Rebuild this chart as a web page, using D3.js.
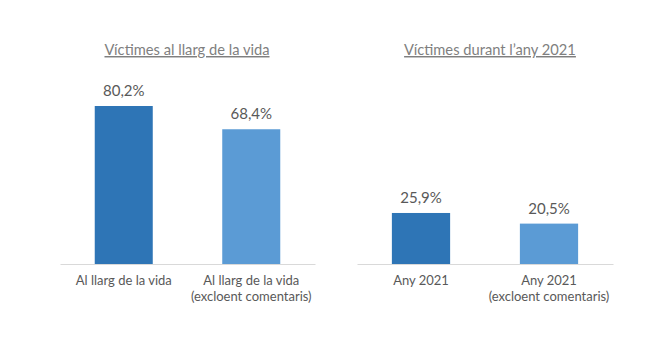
<!DOCTYPE html>
<html>
<head>
<meta charset="utf-8">
<script src="https://cdn.jsdelivr.net/npm/d3@7/dist/d3.min.js"></script>
<style>
  html, body { margin: 0; padding: 0; background: #fff; }
  svg { display: block; font-family: Lato, "Open Sans", sans-serif; }
</style>
</head>
<body>
<svg id="chart" width="650" height="350"></svg>
<script>
// Panel titles
const panelTitles = ["Víctimes al llarg de la vida", "Víctimes durant l’any 2021"];
// Category labels per panel (each label split into lines)
const leftCategories = [["Al llarg de la vida"], ["Al llarg de la vida", "(excloent comentaris)"]];
const rightCategories = [["Any 2021"], ["Any 2021", "(excloent comentaris)"]];
// Percent values per panel
const leftValues = [80.2, 68.4];
const rightValues = [25.9, 20.5];
// Bar colours: full measure, excluding comments
const barColors = ["#2E75B6", "#5B9BD5"];

const svg = d3.select("#chart");
const baseline = 264;
const y = d3.scaleLinear().domain([0, 100]).range([baseline, 67]);
const fmt = v => d3.format(".1f")(v).replace(".", ",") + "%";

const panels = [
  { title: panelTitles[0], cats: leftCategories, vals: leftValues, x0: 60, x1: 315, tx: 187 },
  { title: panelTitles[1], cats: rightCategories, vals: rightValues, x0: 357, x1: 613, tx: 490 }
];

panels.forEach(p => {
  const keys = p.cats.map((c, i) => i);
  const x = d3.scaleBand().domain(keys).range([p.x0, p.x1])
    .paddingInner(0.545).paddingOuter(0.2725);
  const g = svg.append("g");

  // Title with underline
  g.append("text")
    .attr("x", p.tx).attr("y", 55)
    .attr("text-anchor", "middle")
    .attr("font-size", 14.7)
    .attr("fill", "#7f7f7f")
    .attr("text-decoration", "underline")
    .text(p.title);

  // Bars
  g.selectAll("rect").data(p.vals).join("rect")
    .attr("x", (d, i) => x(i))
    .attr("width", x.bandwidth())
    .attr("y", d => y(d))
    .attr("height", d => baseline - y(d))
    .attr("fill", (d, i) => barColors[i]);

  // Value labels
  g.selectAll("text.val").data(p.vals).join("text")
    .attr("class", "val")
    .attr("x", (d, i) => x(i) + x.bandwidth() / 2)
    .attr("y", d => y(d) - 10)
    .attr("text-anchor", "middle")
    .attr("font-size", 15)
    .attr("fill", "#595959")
    .text(fmt);

  // Category axis
  const axis = d3.axisBottom(x).tickSize(0).tickFormat("");
  const ag = g.append("g").attr("transform", `translate(0,${baseline})`).call(axis);
  ag.select(".domain").attr("stroke", "#d9d9d9").attr("stroke-width", 1);

  // Category labels
  p.cats.forEach((lines, i) => {
    const t = g.append("text")
      .attr("x", x(i) + x.bandwidth() / 2)
      .attr("y", 285)
      .attr("text-anchor", "middle")
      .attr("font-size", 13)
      .attr("fill", "#595959");
    lines.forEach((ln, k) => {
      t.append("tspan").attr("x", x(i) + x.bandwidth() / 2)
        .attr("dy", k === 0 ? 0 : 16).text(ln);
    });
  });
});
</script>
</body>
</html>
